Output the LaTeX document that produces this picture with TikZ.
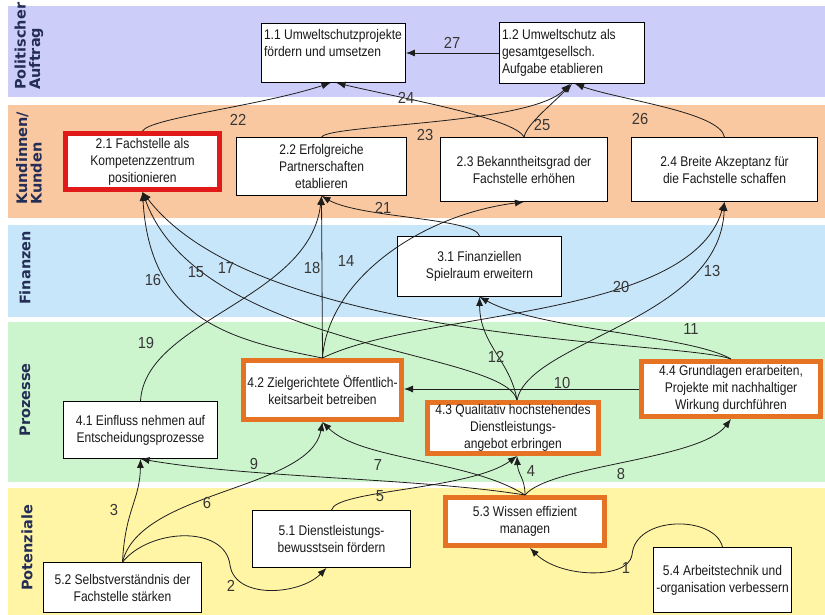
\documentclass[tikz,border=0pt]{standalone}
\usepackage{fontspec}
\setmainfont{Liberation Sans}
\newfontfamily\boxfont{Liberation Sans}[FakeStretch=0.86]
\newfontfamily\numfont{Liberation Sans}[FakeStretch=0.92]
\newfontfamily\bandfont{DejaVu Sans}
\usetikzlibrary{arrows.meta,calc}
\definecolor{polc}{RGB}{205,205,250}
\definecolor{kunc}{RGB}{250,200,160}
\definecolor{finc}{RGB}{200,230,250}
\definecolor{proc}{RGB}{205,245,205}
\definecolor{potc}{RGB}{255,245,165}
\definecolor{redb}{RGB}{225,25,25}
\definecolor{orb}{RGB}{230,115,35}
\definecolor{bandc}{RGB}{35,45,85}
\definecolor{lin}{RGB}{30,30,30}
\definecolor{numc}{RGB}{55,55,55}
\definecolor{txt}{RGB}{25,25,25}
\begin{document}
\begin{tikzpicture}[x=1pt,y=-1pt,
  box/.style={draw=black, line width=0.8pt, fill=white, inner sep=2pt, align=center,
    font=\boxfont\fontsize{14}{17}\selectfont, text=txt},
  redbox/.style={box, draw=redb, line width=5pt},
  orbox/.style={box, draw=orb, line width=5pt},
  conn/.style={draw=lin, line width=0.8pt, -{Latex[length=9pt,width=7pt]}},
  num/.style={font=\numfont\fontsize{16}{16}\selectfont, text=numc, inner sep=0pt},
  band/.style={font=\bandfont\bfseries\fontsize{14.5}{14.5}\selectfont, text=bandc, align=left, inner sep=0pt, rotate=90},
]
\useasboundingbox (0,0) rectangle (825,615);
% bands
\fill[polc] (8,6) rectangle (825,97);
\fill[kunc] (8,105) rectangle (825,218);
\fill[finc] (8,225) rectangle (825,317);
\fill[proc] (8,322) rectangle (825,482);
\fill[potc] (8,488) rectangle (825,615);
% band labels
\node[band, anchor=west] (b1) at (29,90) {Politischer\\Auftrag};
\node[band, anchor=west] (b2) at (29,205) {Kundinnen/\\Kunden};
\node[band] (b3) at (25,268) {Finanzen};
\node[band] (b4) at (25,400) {Prozesse};
\node[band] (b5) at (27,548) {Potenziale};
% nodes
\node[box, align=left, inner sep=0pt, minimum width=144, minimum height=59] (n11) at (333.5,53)
  {\parbox[c][58pt][t]{139pt}{\raggedright\rule{0pt}{16pt}1.1 Umweltschutzprojekte\\fördern und umsetzen}};
\node[box, align=left, inner sep=0pt, minimum width=145, minimum height=61] (n12) at (572,53)
  {\parbox[c][60pt][t]{140pt}{\raggedright\rule{0pt}{17pt}1.2 Umweltschutz als\\gesamtgesellsch.\\Aufgabe etablieren}};
\node[redbox, minimum width=154, minimum height=56] (n21) at (142.5,161.5) {2.1 Fachstelle als\\Kompetenzzentrum\\positionieren};
\node[box, minimum width=170, minimum height=58] (n22) at (321.5,166.5) {2.2 Erfolgreiche\\Partnerschaften\\etablieren};
\node[box, minimum width=167, minimum height=64] (n23) at (524,169.5) {2.3 Bekanntheitsgrad der\\Fachstelle erhöhen};
\node[box, minimum width=186, minimum height=64] (n24) at (724.5,169.5) {2.4 Breite Akzeptanz für\\die Fachstelle schaffen};
\node[box, minimum width=164, minimum height=60] (n31) at (479.5,266.5) {3.1 Finanziellen\\Spielraum erweitern};
\node[box, minimum width=154, minimum height=57] (n41) at (140.5,430) {4.1 Einfluss nehmen auf\\Entscheidungsprozesse};
\node[orbox, minimum width=158, minimum height=59] (n42) at (322.5,390) {4.2 Zielgerichtete Öffentlich-\\keitsarbeit betreiben};
\node[orbox, minimum width=171, minimum height=51] (n43) at (513,428) {4.3 Qualitativ hochstehendes\\Dienstleistungs-\\angebot erbringen};
\node[orbox, minimum width=179, minimum height=55] (n44) at (731,389) {4.4 Grundlagen erarbeiten,\\Projekte mit nachhaltiger\\Wirkung durchführen};
\node[box, minimum width=158, minimum height=57] (n51) at (331.5,539) {5.1 Dienstleistungs-\\bewusstsein fördern};
\node[box, minimum width=158, minimum height=50] (n52) at (122.5,587.5) {5.2 Selbstverständnis der\\Fachstelle stärken};
\node[orbox, minimum width=159, minimum height=48] (n53) at (525,521.5) {5.3 Wissen effizient\\managen};
\node[box, minimum width=138, minimum height=65] (n54) at (722.5,580) {5.4 Arbeitstechnik und\\-organisation verbessern};
% connectors
\draw[conn] (n12.west) -- (n11.east); % 27
\draw[conn] (n21.north) .. controls (150,118) and (260,106) .. ([xshift=-3pt]n11.south); % 22
\draw[conn] (n23.north) .. controls (515,118) and (400,98) .. ([xshift=3pt]n11.south); % 24
\draw[conn] (n22.north) .. controls (330,124) and (530,125) .. ([xshift=-2pt]n12.south); % 23
\draw[conn] (n23.north) .. controls (527,124) and (550,106) .. (n12.south); % 25
\draw[conn] (n24.north) .. controls (720,112) and (620,100) .. ([xshift=3pt]n12.south); % 26
\draw[conn] (n31.north) .. controls (476,218) and (360,218) .. (n22.south); % 21
\draw[conn] (n42.north) -- (n22.south); % 18
\draw[conn] (n42.north) .. controls (328,280) and (420,215) .. (n23.south); % 14
\draw[conn] (n41.north) .. controls (145,320) and (310,300) .. (n22.south); % 19
\draw[conn] (n42.north) .. controls (230,340) and (150,320) .. (n21.south); % 16
\draw[conn] ([xshift=4pt]n43.north) .. controls (505,350) and (200,350) .. (n21.south); % 15
\draw[conn] (n44.north) .. controls (680,340) and (260,345) .. (n21.south); % 17
\draw[conn] (n42.north) .. controls (420,310) and (690,320) .. (n24.south); % 20
\draw[conn] ([xshift=4pt]n43.north) .. controls (530,340) and (720,320) .. (n24.south); % 13
\draw[conn] ([xshift=4pt]n43.north) .. controls (510,360) and (480,345) .. (n31.south); % 12
\draw[conn] (n44.north) .. controls (690,335) and (540,330) .. (n31.south); % 11
\draw[conn] (n44.west) -- (n42.east |- n44.west); % 10
\draw[conn] (n53.north) .. controls (525,478) and (518,475) .. ([xshift=4pt]n43.south); % 4
\draw[conn] (n51.north) .. controls (335,490) and (470,490) .. ([xshift=4pt]n43.south); % 5
\draw[conn] (n53.north) .. controls (470,460) and (360,460) .. (n42.south); % 7
\draw[conn] (n53.north) .. controls (420,478) and (250,478) .. (n41.south); % 9
\draw[conn] (n53.north) .. controls (550,465) and (700,460) .. (n44.south); % 8
\draw[conn] (n52.north) .. controls (140,490) and (310,490) .. (n42.south); % 6
\draw[conn] (n52.north) .. controls (125,510) and (140,500) .. (n41.south); % 3
\draw[conn] (n52.north) .. controls (150,528) and (225,525) .. (230,565) .. controls (235,600) and (300,595) .. ([xshift=-5pt]n51.south); % 2
\draw[conn] (n54.north) .. controls (715,515) and (635,515) .. (632,555) .. controls (628,580) and (560,578) .. ([xshift=5pt]n53.south); % 1
% numbers
\node[num] (l27) at (452,43) {27};
\node[num] (l22) at (238,120) {22};
\node[num] (l24) at (406,98) {24};
\node[num] (l23) at (425,135) {23};
\node[num] (l25) at (542,125) {25};
\node[num] (l26) at (640,119) {26};
\node[num] (l21) at (383,208) {21};
\node[num] (l16) at (153,280) {16};
\node[num] (l15) at (196,272) {15};
\node[num] (l17) at (226,268) {17};
\node[num] (l18) at (312,268) {18};
\node[num] (l14) at (346,261) {14};
\node[num] (l19) at (146,343) {19};
\node[num] (l12) at (496,357) {12};
\node[num] (l10) at (562,383) {10};
\node[num] (l11) at (691,329) {11};
\node[num] (l13) at (712,271) {13};
\node[num] (l20) at (621,287) {20};
\node[num] (l9) at (254,464) {9};
\node[num] (l7) at (378,465) {7};
\node[num] (l6) at (207,503) {6};
\node[num] (l5) at (380,496) {5};
\node[num] (l3) at (114,510) {3};
\node[num] (l2) at (231,586) {2};
\node[num] (l4) at (531,471) {4};
\node[num] (l8) at (621,474) {8};
\node[num] (l1) at (626,568) {1};
\end{tikzpicture}
\end{document}
